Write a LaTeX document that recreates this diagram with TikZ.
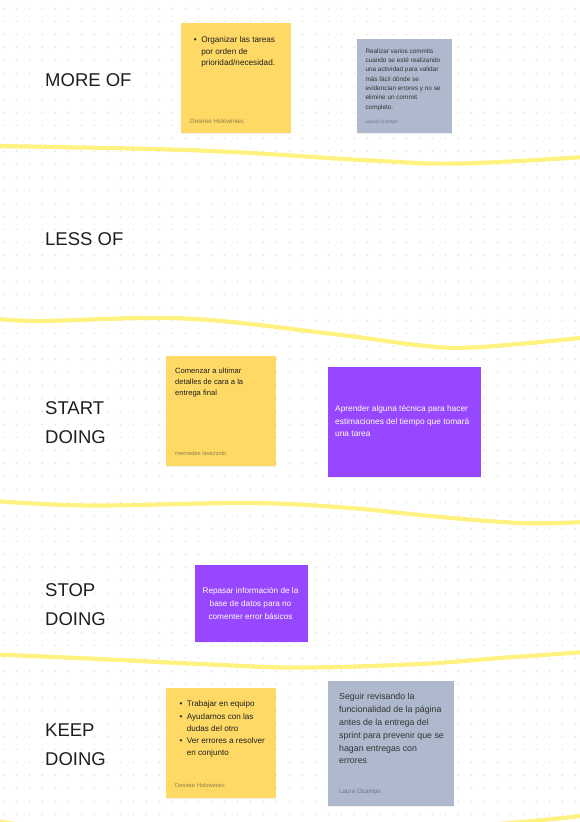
\documentclass[tikz,border=0pt]{standalone}
\usepackage{fontspec}
\setmainfont{Liberation Sans}
\usetikzlibrary{shadows}
\definecolor{notey}{HTML}{FFD966}
\definecolor{noteb}{HTML}{AEB9CE}
\definecolor{notep}{HTML}{9747FF}
\definecolor{marker}{HTML}{FFF27A}
\definecolor{ink}{HTML}{1E1E1E}
\definecolor{ytag}{HTML}{8F7D4A}
\definecolor{btag}{HTML}{6E7687}
\definecolor{griddot}{HTML}{DCDCDC}
\newcommand{\notelines}[1]{\begin{tabular}[t]{@{}l@{}}#1\end{tabular}}
\newcommand{\notecenter}[1]{\begin{tabular}[t]{@{}c@{}}#1\end{tabular}}
\newcommand{\notebullets}[1]{\begin{tabular}[t]{@{}l@{\hspace{4.6pt}}l@{}}#1\end{tabular}}

\begin{document}
\begin{tikzpicture}[x=1pt,y=-1pt,line cap=round,line join=round,
  note/.style={inner sep=0,drop shadow={shadow xshift=0pt,shadow yshift=-1pt,opacity=.12}},
  wave/.style={draw=marker,line width=4.2pt,opacity=.95},
  lab/.style={anchor=base west,inner sep=0,text=ink,font=\fontsize{18.5}{29}\selectfont},
  body/.style={anchor=base west,inner sep=0,text=ink},
  tag/.style={anchor=base west,inner sep=0}]
\useasboundingbox (0,0) rectangle (580,822);
\fill[white] (0,0) rectangle (580,822);
% dot grid
\foreach \i in {0,...,44}
  \foreach \j in {0,...,62}
    \fill[griddot] (3.3+13*\i,8.3+13*\j) circle (0.8pt);

% yellow separators
\draw[wave] plot[smooth,tension=0.6] coordinates {(-5,146) (200,150.5) (370,160.5) (460,163.5) (585,157)};
\draw[wave] plot[smooth,tension=0.6] coordinates {(-5,318.5) (40,321) (185,318.5) (333,334) (426,346) (481,347) (585,337.5)};
\draw[wave] plot[smooth,tension=0.6] coordinates {(-5,501) (90,505.5) (250,503) (350,508) (430,516) (520,523) (585,522)};
\draw[wave] plot[smooth,tension=0.6] coordinates {(-5,654.5) (100,659) (200,664) (300,667.5) (420,664) (500,658) (585,652)};
\draw[wave] plot[smooth,tension=0.6] coordinates {(-5,820) (40,826) (250,836) (470,826) (585,815.5)};

% row titles
\node[lab] (more) at (45,86) {MORE OF};
\node[lab] (less) at (45,245.7) {LESS OF};
\node[lab] (start) at (45,414.3) {\notelines{START\\DOING}};
\node[lab] (stop) at (45,596.7) {\notelines{STOP\\DOING}};
\node[lab] (keep) at (45,736.7) {\notelines{KEEP\\DOING}};

% more of
\node[note,fill=notey,minimum width=110,minimum height=110] (more1) at (236,78) {};
\node[body,font=\fontsize{8.2}{11.8}\selectfont] (more1txt) at (193.6,42.2)
  {\notebullets{\textbullet & Organizar las tareas\\ & por orden de\\ & prioridad/necesidad.}};
\node[tag,text=ytag,font=\fontsize{6.3}{7}\selectfont] (more1tag) at (190,123.8) {Desiree Holowiniec};

\node[note,fill=noteb,minimum width=95,minimum height=94] (more2) at (404.5,86) {};
\node[body,text=black!80,font=\fontsize{6.4}{9.3}\selectfont] (more2txt) at (365.3,53.2)
  {\notelines{Realizar varios commits\\cuando se esté realizando\\una actividad para validar\\más fácil dónde se\\evidencian errores y no se\\elimine un commit\\completo.}};
\node[tag,text=btag,font=\fontsize{4.9}{6}\selectfont] (more2tag) at (365.3,123.6) {Laura Ocampo};

% start doing
\node[note,fill=notey,minimum width=110,minimum height=110] (start1) at (221,411) {};
\node[body,font=\fontsize{7.6}{11}\selectfont] (start1txt) at (175,373.4)
  {\notelines{Comenzar a ultimar\\detalles de cara a la\\entrega final}};
\node[tag,text=ytag,font=\fontsize{5.8}{7}\selectfont] (start1tag) at (175,455.9) {mercedes lavezzolo};

\node[note,fill=notep,minimum width=153,minimum height=110] (start2) at (404.5,421.7) {};
\node[body,text=white,font=\fontsize{8.35}{12.5}\selectfont] (start2txt) at (335,411.9)
  {\notelines{Aprender alguna técnica para hacer\\estimaciones del tiempo que tomará\\una tarea}};

% stop doing
\node[note,fill=notep,minimum width=113,minimum height=77] (stop1) at (251.5,603.5) {};
\node[body,anchor=base,text=white,font=\fontsize{8.2}{12.7}\selectfont] (stop1txt) at (250.5,593.9)
  {\notecenter{Repasar información de la\\base de datos para no\\comenter error básicos}};

% keep doing
\node[note,fill=notey,minimum width=110,minimum height=110] (keep1) at (220.7,743) {};
\node[body,font=\fontsize{8.1}{12.1}\selectfont] (keep1txt) at (179.3,706.9)
  {\notebullets{\textbullet & Trabajar en equipo\\ \textbullet & Ayudarnos con las\\ & dudas del otro\\ \textbullet & Ver errores a resolver\\ & en conjunto}};
\node[tag,text=ytag,font=\fontsize{5.8}{7}\selectfont] (keep1tag) at (175,787.9) {Desiree Holowiniec};

\node[note,fill=noteb,minimum width=126,minimum height=125] (keep2) at (391,743.3) {};
\node[body,text=black!80,font=\fontsize{8.8}{12.8}\selectfont] (keep2txt) at (339,699.8)
  {\notelines{Seguir revisando la\\funcionalidad de la página\\antes de la entrega del\\sprint para prevenir que se\\hagan entregas con\\errores}};
\node[tag,text=btag,font=\fontsize{6.3}{7}\selectfont] (keep2tag) at (339,793.8) {Laura Ocampo};
\end{tikzpicture}
\end{document}
